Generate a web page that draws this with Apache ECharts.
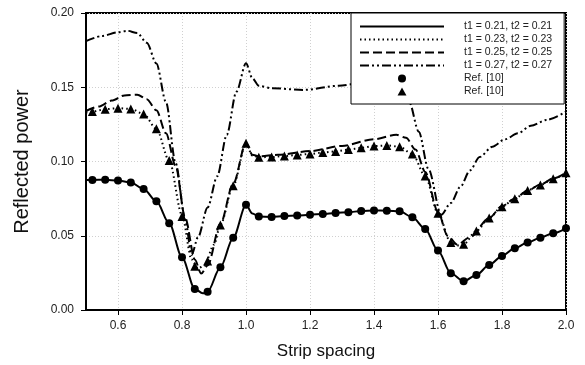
<!DOCTYPE html>
<html>
<head>
<meta charset="utf-8">
<script src="https://cdn.jsdelivr.net/npm/echarts@6/dist/echarts.min.js"></script>
<style>
  html, body { margin: 0; padding: 0; background: #fff; }
  #chart { width: 585px; height: 365px; }
</style>
</head>
<body>
<div id="chart"></div>
<script>
// reference markers (same x for both sets)
const refX = [0.52, 0.56, 0.60, 0.64, 0.68, 0.72, 0.76, 0.80, 0.84, 0.88, 0.92, 0.96, 1.00,
  1.04, 1.08, 1.12, 1.16, 1.20, 1.24, 1.28, 1.32, 1.36, 1.40, 1.44, 1.48, 1.52, 1.56, 1.60,
  1.64, 1.68, 1.72, 1.76, 1.80, 1.84, 1.88, 1.92, 1.96, 2.00];
const refCircle = [0.0876, 0.0877, 0.0872, 0.0858, 0.0815, 0.0732, 0.0584, 0.0355, 0.0142, 0.0123,
  0.0288, 0.0487, 0.0708, 0.0629, 0.0627, 0.0633, 0.0636, 0.0641, 0.0647, 0.0654, 0.0658, 0.0667,
  0.0670, 0.0669, 0.0665, 0.0625, 0.0546, 0.0400, 0.0247, 0.0193, 0.0236, 0.0303, 0.0364, 0.0416,
  0.0454, 0.0487, 0.0517, 0.0550];
const refTriangle = [0.1336, 0.1352, 0.1359, 0.1354, 0.1320, 0.1220, 0.1006, 0.0629, 0.0295, 0.0330,
  0.0573, 0.0836, 0.1123, 0.1029, 0.1030, 0.1037, 0.1044, 0.1051, 0.1060, 0.1068, 0.1080, 0.1092,
  0.1104, 0.1108, 0.1100, 0.1050, 0.0903, 0.0651, 0.0454, 0.0443, 0.0532, 0.0620, 0.0696, 0.0750,
  0.0805, 0.0842, 0.0884, 0.0925];

// simulated curves
const t21X = [0.50, 0.52, 0.56, 0.60, 0.64, 0.68, 0.72, 0.76, 0.80, 0.84, 0.865, 0.88, 0.92, 0.96,
  1.00, 1.02, 1.04, 1.08, 1.12, 1.16, 1.20, 1.24, 1.28, 1.32, 1.36, 1.40, 1.44, 1.48, 1.52, 1.56,
  1.60, 1.64, 1.68, 1.72, 1.76, 1.80, 1.84, 1.88, 1.92, 1.96, 2.00];
const t21Y = [0.0876, 0.0876, 0.0877, 0.0872, 0.0858, 0.0815, 0.0732, 0.0584, 0.0355, 0.0142, 0.0112,
  0.0123, 0.0288, 0.0487, 0.0708, 0.0650, 0.0629, 0.0627, 0.0633, 0.0636, 0.0641, 0.0647, 0.0654,
  0.0658, 0.0667, 0.0670, 0.0669, 0.0665, 0.0625, 0.0546, 0.0400, 0.0247, 0.0193, 0.0236, 0.0303,
  0.0364, 0.0416, 0.0454, 0.0487, 0.0517, 0.0550];

const t23X = [0.50, 0.52, 0.56, 0.60, 0.64, 0.68, 0.72, 0.76, 0.80, 0.83, 0.85, 0.87, 0.90, 0.92,
  0.96, 1.00, 1.02, 1.04, 1.08, 1.12, 1.16, 1.20, 1.24, 1.28, 1.32, 1.36, 1.40, 1.44, 1.48, 1.52,
  1.56, 1.60, 1.64, 1.66, 1.68, 1.72, 1.76, 1.80, 1.84, 1.88, 1.92, 1.96, 2.00];
const t23Y = [0.1330, 0.1336, 0.1352, 0.1359, 0.1354, 0.1320, 0.1220, 0.1006, 0.0640, 0.0340, 0.0280,
  0.0300, 0.0440, 0.0573, 0.0836, 0.1123, 0.1040, 0.1029, 0.1030, 0.1037, 0.1044, 0.1051, 0.1060,
  0.1068, 0.1080, 0.1092, 0.1104, 0.1108, 0.1100, 0.1050, 0.0903, 0.0651, 0.0454, 0.0435, 0.0443,
  0.0532, 0.0620, 0.0696, 0.0750, 0.0805, 0.0842, 0.0884, 0.0925];

const t25X = [0.50, 0.54, 0.58, 0.62, 0.66, 0.69, 0.72, 0.75, 0.78, 0.81, 0.84, 0.86, 0.88, 0.92,
  0.96, 1.00, 1.02, 1.04, 1.10, 1.20, 1.30, 1.40, 1.47, 1.50, 1.53, 1.56, 1.60, 1.63, 1.66, 1.70,
  1.76, 1.80, 1.84, 1.88, 1.92, 1.96, 2.00];
const t25Y = [0.1340, 0.1370, 0.1410, 0.1445, 0.1450, 0.1420, 0.1345, 0.1190, 0.0970, 0.0620, 0.0340,
  0.0245, 0.0300, 0.0580, 0.0850, 0.1125, 0.1045, 0.1035, 0.1045, 0.1070, 0.1105, 0.1150, 0.1180,
  0.1160, 0.1080, 0.0930, 0.0660, 0.0500, 0.0440, 0.0490, 0.0620, 0.0700, 0.0750, 0.0805, 0.0845,
  0.0885, 0.0925];

const t27X = [0.50, 0.55, 0.60, 0.63, 0.66, 0.69, 0.72, 0.75, 0.78, 0.81, 0.83, 0.85, 0.88, 0.91,
  0.94, 0.97, 1.00, 1.02, 1.04, 1.08, 1.18, 1.29, 1.35, 1.42, 1.47, 1.51, 1.54, 1.57, 1.61, 1.64,
  1.67, 1.70, 1.73, 1.77, 1.81, 1.85, 1.89, 1.94, 2.00];
const t27Y = [0.1810, 0.1845, 0.1870, 0.1880, 0.1865, 0.1800, 0.1660, 0.1400, 0.0990, 0.0610, 0.0370,
  0.0490, 0.0690, 0.0900, 0.1180, 0.1470, 0.1662, 0.1560, 0.1510, 0.1494, 0.1482, 0.1510, 0.1525,
  0.1535, 0.1520, 0.1400, 0.1200, 0.0950, 0.0640, 0.0720, 0.0830, 0.0940, 0.1030, 0.1100, 0.1150,
  0.1190, 0.1240, 0.1280, 0.1336];

const xTicks = [0.6, 0.8, 1.0, 1.2, 1.4, 1.6, 1.8, 2.0];
const seriesNames = ["t1 = 0.21, t2 = 0.21", "t1 = 0.23, t2 = 0.23", "t1 = 0.25, t2 = 0.25",
  "t1 = 0.27, t2 = 0.27", "Ref. [10]", "Ref. [10] "];

const FONT = "'Liberation Sans', Arial, sans-serif";
const zip = (xs, ys) => xs.map((x, i) => [x, ys[i]]);

function lineSeries(name, xs, ys, dash) {
  return {
    name,
    type: "line",
    data: zip(xs, ys),
    symbol: "none",
    smooth: 0.3,
    smoothMonotone: "x",
    itemStyle: { color: "#000" },
    lineStyle: { color: "#000", width: 2, type: dash },
    z: 3,
  };
}

// line entries in the legend: hide the dot echarts puts in the middle
const lineItem = (name) => ({ name, itemStyle: { opacity: 0 } });

const chart = echarts.init(document.getElementById("chart"), null, { renderer: "canvas" });

chart.setOption({
  animation: false,
  backgroundColor: "#fff",
  grid: {
    left: 86, right: 19, top: 13, bottom: 55,
    show: true, borderColor: "#000", borderWidth: 2,
    outerBoundsMode: "none",
  },
  legend: {
    orient: "vertical",
    left: 351,
    top: 13,
    padding: [8, 12, 7, 8],
    itemGap: 2,
    itemWidth: 84,
    itemHeight: 8,
    symbolKeepAspect: true,
    backgroundColor: "#fff",
    borderColor: "#000",
    borderWidth: 1,
    borderRadius: 0,
    selectedMode: false,
    textStyle: { fontFamily: FONT, fontSize: 10.5, color: "#222", padding: [0, 0, 0, 15] },
    data: [
      lineItem(seriesNames[0]),
      lineItem(seriesNames[1]),
      lineItem(seriesNames[2]),
      lineItem(seriesNames[3]),
      { name: seriesNames[4], icon: "circle" },
      { name: seriesNames[5], icon: "path://M5,0L10,9L0,9Z" },
    ],
  },
  xAxis: {
    type: "value",
    min: 0.5,
    max: 2.0,
    name: "Strip spacing",
    nameLocation: "middle",
    nameGap: 33,
    nameTextStyle: { fontFamily: FONT, fontSize: 17, color: "#111" },
    axisLine: { show: true, lineStyle: { color: "#000", width: 2 } },
    axisTick: { show: true, customValues: xTicks, length: 5, lineStyle: { color: "#000", width: 1 } },
    axisLabel: {
      customValues: xTicks,
      margin: 10,
      fontFamily: FONT,
      fontSize: 12,
      color: "#222",
      formatter: (v) => v.toFixed(1),
    },
    splitLine: { show: true, lineStyle: { color: "#d0d0d0", width: 1, type: [1, 2] } },
  },
  yAxis: {
    type: "value",
    min: 0,
    max: 0.2,
    interval: 0.05,
    name: "Reflected power",
    nameLocation: "middle",
    nameGap: 54,
    nameTextStyle: { fontFamily: FONT, fontSize: 20, color: "#111" },
    axisLine: { show: true, lineStyle: { color: "#000", width: 2 } },
    axisTick: { show: true, length: 5, lineStyle: { color: "#000", width: 1 } },
    axisLabel: {
      margin: 12,
      fontFamily: FONT,
      fontSize: 12,
      color: "#222",
      formatter: (v) => v.toFixed(2),
    },
    splitLine: { show: true, lineStyle: { color: "#d0d0d0", width: 1, type: [1, 2] } },
  },
  series: [
    lineSeries(seriesNames[0], t21X, t21Y, "solid"),
    lineSeries(seriesNames[1], t23X, t23Y, [1.5, 3]),
    lineSeries(seriesNames[2], t25X, t25Y, [9, 4]),
    lineSeries(seriesNames[3], t27X, t27Y, [9, 3, 2, 3, 2, 3]),
    {
      name: seriesNames[4],
      type: "scatter",
      data: zip(refX, refCircle),
      symbol: "circle",
      symbolSize: 8,
      itemStyle: { color: "#000", opacity: 1 },
      z: 4,
    },
    {
      name: seriesNames[5],
      type: "scatter",
      data: zip(refX, refTriangle),
      symbol: "triangle",
      symbolSize: 9,
      itemStyle: { color: "#000", opacity: 1 },
      z: 4,
    },
  ],
});
</script>
</body>
</html>
